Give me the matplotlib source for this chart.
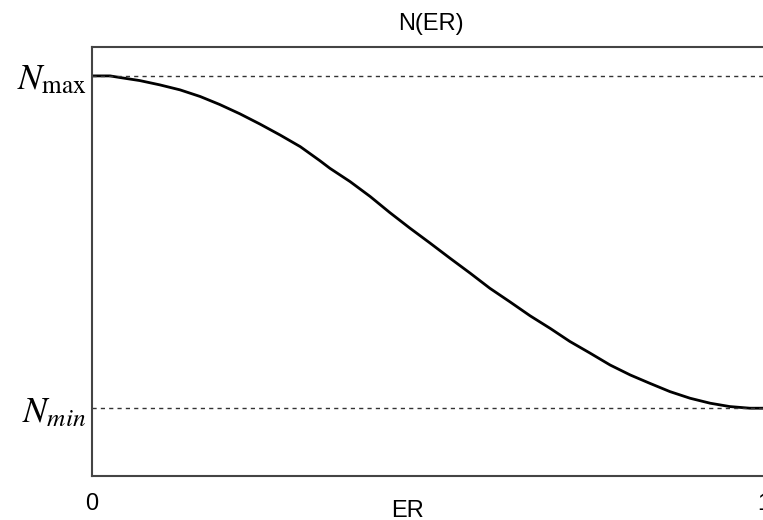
import matplotlib
matplotlib.use("Agg")
import matplotlib.pyplot as plt

# Data (Nmin = 0, Nmax = 1)
er = [0.0, 0.027, 0.042, 0.071, 0.101, 0.131, 0.161, 0.190, 0.220, 0.250,
      0.280, 0.310, 0.339, 0.354, 0.384, 0.414, 0.443, 0.473, 0.503, 0.533,
      0.563, 0.592, 0.622, 0.652, 0.682, 0.711, 0.741, 0.771, 0.801, 0.830,
      0.860, 0.890, 0.920, 0.949, 0.979, 1.0]
n_val = [1.0, 1.0, 0.995, 0.986, 0.973, 0.958, 0.938, 0.914, 0.886, 0.855,
         0.822, 0.787, 0.745, 0.722, 0.682, 0.637, 0.589, 0.542, 0.497, 0.451,
         0.406, 0.361, 0.320, 0.278, 0.240, 0.201, 0.166, 0.130, 0.100, 0.075,
         0.050, 0.030, 0.015, 0.005, 0.0, 0.0]
n_min, n_max = 0.0, 1.0
y_tick_labels = [r'$N_{min}$', r'$N_{\mathrm{max}}$']
x_ticks = [0, 1]
x_tick_labels = ['0', '1']

plt.rcParams['mathtext.fontset'] = 'stix'
plt.rcParams['font.family'] = ['Liberation Sans', 'DejaVu Sans']

fig = plt.figure(figsize=(7.63, 5.20), dpi=100)
W, H = 763, 520
left_px, right_px, top_px, bot_px = 92, 770, 47, 476
unit_px = 672.0
ax = fig.add_axes([left_px / W, 1 - bot_px / H, (right_px - left_px) / W, (bot_px - top_px) / H])

ax.plot(er, n_val, color='black', lw=2.0, solid_joinstyle='round', solid_capstyle='round')
for v in (n_min, n_max):
    ax.axhline(v, color='#333333', lw=1.0, ls=(0, (3, 3)))

ax.set_xlim(0, (right_px - left_px) / unit_px)
ax.set_ylim(-0.204, 1.087)

ax.set_xticks(x_ticks)
ax.set_xticklabels(x_tick_labels, fontsize=17)
ax.set_yticks([n_min, n_max])
ax.set_yticklabels(y_tick_labels, fontsize=26)
ax.tick_params(axis='x', length=0, pad=12)
ax.tick_params(axis='y', length=0, pad=4)

for s in ('left', 'top', 'bottom'):
    ax.spines[s].set_color('#444444')
    ax.spines[s].set_linewidth(1.5)
ax.spines['right'].set_visible(False)

ax.set_title('N(ER)', fontsize=17, pad=12)
fig.text(407 / W, 1 - 511 / H, 'ER', fontsize=17, ha='center', va='center')

fig.savefig('out.png', dpi=100)
